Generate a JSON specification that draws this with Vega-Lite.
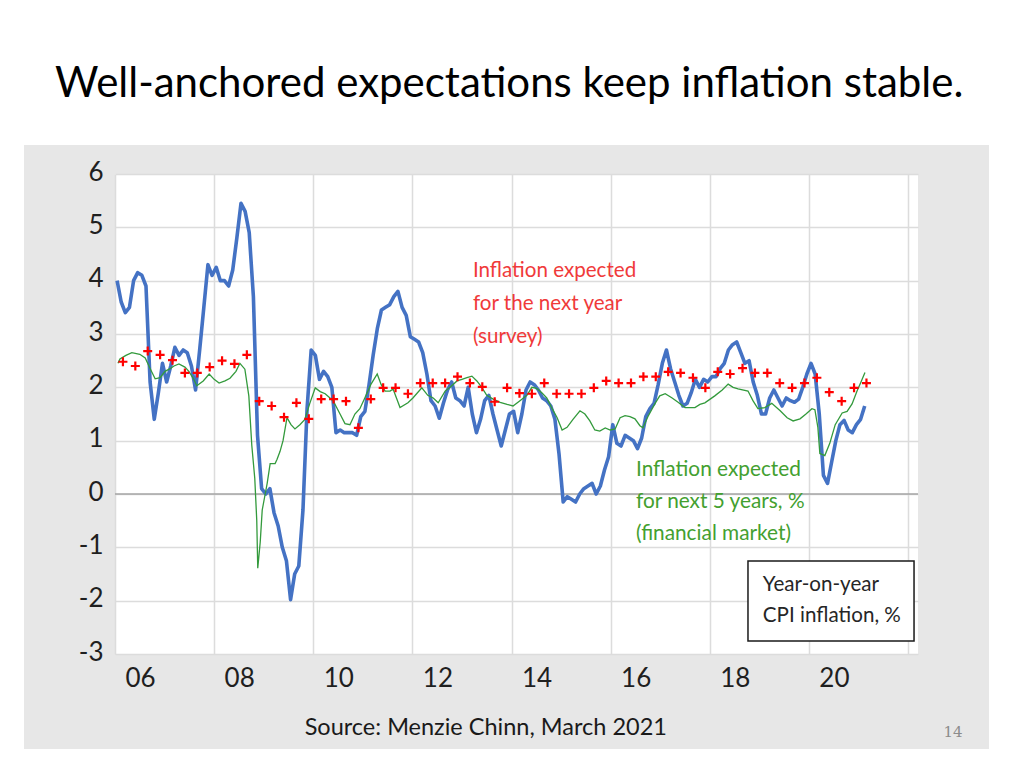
{
  "$schema": "https://vega.github.io/schema/vega-lite/v6.json",
  "width": 803,
  "height": 480,
  "autosize": {"type": "none"},
  "padding": {"left": 115, "top": 174, "right": 106, "bottom": 114},
  "background": "#e7e7e7",
  "config": {
    "view": {"fill": "#ffffff", "stroke": null},
    "font": "Lato",
    "text": {"font": "Lato"}
  },
  "datasets": {
    "cpi": [
      {"year": 2006.042, "pct": 4.0}, {"year": 2006.125, "pct": 3.6}, {"year": 2006.208, "pct": 3.4}, {"year": 2006.292, "pct": 3.5}, {"year": 2006.375, "pct": 4.0}, {"year": 2006.458, "pct": 4.15}, {"year": 2006.542, "pct": 4.1}, {"year": 2006.625, "pct": 3.9}, {"year": 2006.708, "pct": 2.1}, {"year": 2006.792, "pct": 1.4}, {"year": 2006.875, "pct": 1.9}, {"year": 2006.958, "pct": 2.45},
      {"year": 2007.042, "pct": 2.1}, {"year": 2007.125, "pct": 2.4}, {"year": 2007.208, "pct": 2.75}, {"year": 2007.292, "pct": 2.6}, {"year": 2007.375, "pct": 2.7}, {"year": 2007.458, "pct": 2.65}, {"year": 2007.542, "pct": 2.4}, {"year": 2007.625, "pct": 1.95}, {"year": 2007.708, "pct": 2.7}, {"year": 2007.792, "pct": 3.5}, {"year": 2007.875, "pct": 4.3}, {"year": 2007.958, "pct": 4.1},
      {"year": 2008.042, "pct": 4.25}, {"year": 2008.125, "pct": 4.0}, {"year": 2008.208, "pct": 4.0}, {"year": 2008.292, "pct": 3.9}, {"year": 2008.375, "pct": 4.2}, {"year": 2008.458, "pct": 4.8}, {"year": 2008.542, "pct": 5.45}, {"year": 2008.625, "pct": 5.3}, {"year": 2008.708, "pct": 4.9}, {"year": 2008.792, "pct": 3.7}, {"year": 2008.875, "pct": 1.1}, {"year": 2008.958, "pct": 0.1},
      {"year": 2009.042, "pct": 0.0}, {"year": 2009.125, "pct": 0.1}, {"year": 2009.208, "pct": -0.35}, {"year": 2009.292, "pct": -0.6}, {"year": 2009.375, "pct": -1.0}, {"year": 2009.458, "pct": -1.25}, {"year": 2009.542, "pct": -1.98}, {"year": 2009.625, "pct": -1.5}, {"year": 2009.708, "pct": -1.35}, {"year": 2009.792, "pct": -0.3}, {"year": 2009.875, "pct": 1.6}, {"year": 2009.958, "pct": 2.7},
      {"year": 2010.042, "pct": 2.6}, {"year": 2010.125, "pct": 2.15}, {"year": 2010.208, "pct": 2.3}, {"year": 2010.292, "pct": 2.2}, {"year": 2010.375, "pct": 2.0}, {"year": 2010.458, "pct": 1.15}, {"year": 2010.542, "pct": 1.2}, {"year": 2010.625, "pct": 1.15}, {"year": 2010.708, "pct": 1.15}, {"year": 2010.792, "pct": 1.15}, {"year": 2010.875, "pct": 1.1}, {"year": 2010.958, "pct": 1.45},
      {"year": 2011.042, "pct": 1.55}, {"year": 2011.125, "pct": 2.05}, {"year": 2011.208, "pct": 2.6}, {"year": 2011.292, "pct": 3.1}, {"year": 2011.375, "pct": 3.45}, {"year": 2011.458, "pct": 3.5}, {"year": 2011.542, "pct": 3.55}, {"year": 2011.625, "pct": 3.7}, {"year": 2011.708, "pct": 3.8}, {"year": 2011.792, "pct": 3.5}, {"year": 2011.875, "pct": 3.35}, {"year": 2011.958, "pct": 2.95},
      {"year": 2012.042, "pct": 2.9}, {"year": 2012.125, "pct": 2.85}, {"year": 2012.208, "pct": 2.65}, {"year": 2012.292, "pct": 2.25}, {"year": 2012.375, "pct": 1.75}, {"year": 2012.458, "pct": 1.65}, {"year": 2012.542, "pct": 1.42}, {"year": 2012.625, "pct": 1.7}, {"year": 2012.708, "pct": 1.95}, {"year": 2012.792, "pct": 2.1}, {"year": 2012.875, "pct": 1.8}, {"year": 2012.958, "pct": 1.75},
      {"year": 2013.042, "pct": 1.65}, {"year": 2013.125, "pct": 2.0}, {"year": 2013.208, "pct": 1.5}, {"year": 2013.292, "pct": 1.15}, {"year": 2013.375, "pct": 1.4}, {"year": 2013.458, "pct": 1.75}, {"year": 2013.542, "pct": 1.85}, {"year": 2013.625, "pct": 1.5}, {"year": 2013.708, "pct": 1.2}, {"year": 2013.792, "pct": 0.9}, {"year": 2013.875, "pct": 1.2}, {"year": 2013.958, "pct": 1.5},
      {"year": 2014.042, "pct": 1.55}, {"year": 2014.125, "pct": 1.15}, {"year": 2014.208, "pct": 1.5}, {"year": 2014.292, "pct": 1.95}, {"year": 2014.375, "pct": 2.1}, {"year": 2014.458, "pct": 2.05}, {"year": 2014.542, "pct": 1.95}, {"year": 2014.625, "pct": 1.8}, {"year": 2014.708, "pct": 1.75}, {"year": 2014.792, "pct": 1.65}, {"year": 2014.875, "pct": 1.4}, {"year": 2014.958, "pct": 0.75},
      {"year": 2015.042, "pct": -0.15}, {"year": 2015.125, "pct": -0.05}, {"year": 2015.208, "pct": -0.1}, {"year": 2015.292, "pct": -0.15}, {"year": 2015.375, "pct": 0.0}, {"year": 2015.458, "pct": 0.1}, {"year": 2015.542, "pct": 0.15}, {"year": 2015.625, "pct": 0.2}, {"year": 2015.708, "pct": 0.0}, {"year": 2015.792, "pct": 0.15}, {"year": 2015.875, "pct": 0.45}, {"year": 2015.958, "pct": 0.7},
      {"year": 2016.042, "pct": 1.3}, {"year": 2016.125, "pct": 0.95}, {"year": 2016.208, "pct": 0.9}, {"year": 2016.292, "pct": 1.1}, {"year": 2016.375, "pct": 1.05}, {"year": 2016.458, "pct": 1.0}, {"year": 2016.542, "pct": 0.85}, {"year": 2016.625, "pct": 1.05}, {"year": 2016.708, "pct": 1.45}, {"year": 2016.792, "pct": 1.6}, {"year": 2016.875, "pct": 1.7}, {"year": 2016.958, "pct": 2.05},
      {"year": 2017.042, "pct": 2.45}, {"year": 2017.125, "pct": 2.7}, {"year": 2017.208, "pct": 2.35}, {"year": 2017.292, "pct": 2.1}, {"year": 2017.375, "pct": 1.85}, {"year": 2017.458, "pct": 1.65}, {"year": 2017.542, "pct": 1.7}, {"year": 2017.625, "pct": 1.9}, {"year": 2017.708, "pct": 2.15}, {"year": 2017.792, "pct": 2.0}, {"year": 2017.875, "pct": 2.15}, {"year": 2017.958, "pct": 2.1},
      {"year": 2018.042, "pct": 2.2}, {"year": 2018.125, "pct": 2.2}, {"year": 2018.208, "pct": 2.35}, {"year": 2018.292, "pct": 2.45}, {"year": 2018.375, "pct": 2.7}, {"year": 2018.458, "pct": 2.8}, {"year": 2018.542, "pct": 2.85}, {"year": 2018.625, "pct": 2.65}, {"year": 2018.708, "pct": 2.45}, {"year": 2018.792, "pct": 2.5}, {"year": 2018.875, "pct": 2.1}, {"year": 2018.958, "pct": 1.85},
      {"year": 2019.042, "pct": 1.5}, {"year": 2019.125, "pct": 1.5}, {"year": 2019.208, "pct": 1.8}, {"year": 2019.292, "pct": 1.95}, {"year": 2019.375, "pct": 1.8}, {"year": 2019.458, "pct": 1.65}, {"year": 2019.542, "pct": 1.8}, {"year": 2019.625, "pct": 1.75}, {"year": 2019.708, "pct": 1.72}, {"year": 2019.792, "pct": 1.78}, {"year": 2019.875, "pct": 2.0}, {"year": 2019.958, "pct": 2.25},
      {"year": 2020.042, "pct": 2.45}, {"year": 2020.125, "pct": 2.25}, {"year": 2020.208, "pct": 1.5}, {"year": 2020.292, "pct": 0.35}, {"year": 2020.375, "pct": 0.2}, {"year": 2020.458, "pct": 0.6}, {"year": 2020.542, "pct": 1.0}, {"year": 2020.625, "pct": 1.3}, {"year": 2020.708, "pct": 1.38}, {"year": 2020.792, "pct": 1.2}, {"year": 2020.875, "pct": 1.15}, {"year": 2020.958, "pct": 1.3},
      {"year": 2021.042, "pct": 1.4}, {"year": 2021.125, "pct": 1.65}
    ],
    "market5y": [
      {"year": 2006.06, "pct": 2.45}, {"year": 2006.10, "pct": 2.53}, {"year": 2006.22, "pct": 2.60}, {"year": 2006.34, "pct": 2.65}, {"year": 2006.50, "pct": 2.62}, {"year": 2006.61, "pct": 2.55}, {"year": 2006.71, "pct": 2.35}, {"year": 2006.81, "pct": 2.16}, {"year": 2006.91, "pct": 2.18},
      {"year": 2007.01, "pct": 2.30}, {"year": 2007.11, "pct": 2.35}, {"year": 2007.19, "pct": 2.40}, {"year": 2007.29, "pct": 2.44}, {"year": 2007.41, "pct": 2.38}, {"year": 2007.49, "pct": 2.30}, {"year": 2007.59, "pct": 2.15}, {"year": 2007.65, "pct": 2.03}, {"year": 2007.78, "pct": 2.12}, {"year": 2007.90, "pct": 2.25},
      {"year": 2008.00, "pct": 2.15}, {"year": 2008.10, "pct": 2.08}, {"year": 2008.22, "pct": 2.12}, {"year": 2008.32, "pct": 2.17}, {"year": 2008.44, "pct": 2.30}, {"year": 2008.52, "pct": 2.45}, {"year": 2008.62, "pct": 2.34}, {"year": 2008.70, "pct": 1.84}, {"year": 2008.76, "pct": 0.91}, {"year": 2008.82, "pct": 0.29}, {"year": 2008.86, "pct": -0.50}, {"year": 2008.88, "pct": -1.39}, {"year": 2008.93, "pct": -0.90}, {"year": 2008.97, "pct": -0.30},
      {"year": 2009.03, "pct": 0.00}, {"year": 2009.07, "pct": 0.20}, {"year": 2009.13, "pct": 0.57}, {"year": 2009.23, "pct": 0.57}, {"year": 2009.27, "pct": 0.65}, {"year": 2009.33, "pct": 0.80}, {"year": 2009.39, "pct": 1.00}, {"year": 2009.47, "pct": 1.43}, {"year": 2009.55, "pct": 1.30}, {"year": 2009.63, "pct": 1.22}, {"year": 2009.73, "pct": 1.30}, {"year": 2009.83, "pct": 1.40}, {"year": 2009.93, "pct": 1.70},
      {"year": 2010.04, "pct": 1.99}, {"year": 2010.14, "pct": 1.92}, {"year": 2010.24, "pct": 1.88}, {"year": 2010.40, "pct": 1.75}, {"year": 2010.54, "pct": 1.50}, {"year": 2010.64, "pct": 1.32}, {"year": 2010.74, "pct": 1.30}, {"year": 2010.84, "pct": 1.50}, {"year": 2010.94, "pct": 1.60},
      {"year": 2011.04, "pct": 1.80}, {"year": 2011.16, "pct": 2.05}, {"year": 2011.29, "pct": 2.25}, {"year": 2011.37, "pct": 2.05}, {"year": 2011.45, "pct": 1.93}, {"year": 2011.55, "pct": 1.93}, {"year": 2011.61, "pct": 1.97}, {"year": 2011.75, "pct": 1.62}, {"year": 2011.91, "pct": 1.71},
      {"year": 2012.01, "pct": 1.80}, {"year": 2012.19, "pct": 1.99}, {"year": 2012.31, "pct": 1.85}, {"year": 2012.42, "pct": 1.80}, {"year": 2012.52, "pct": 1.71}, {"year": 2012.66, "pct": 1.93}, {"year": 2012.76, "pct": 2.00}, {"year": 2012.90, "pct": 2.12},
      {"year": 2013.00, "pct": 2.15}, {"year": 2013.10, "pct": 2.18}, {"year": 2013.20, "pct": 2.21}, {"year": 2013.30, "pct": 2.12}, {"year": 2013.40, "pct": 2.00}, {"year": 2013.50, "pct": 1.85}, {"year": 2013.63, "pct": 1.78}, {"year": 2013.77, "pct": 1.72}, {"year": 2013.91, "pct": 1.68},
      {"year": 2014.03, "pct": 1.65}, {"year": 2014.17, "pct": 1.75}, {"year": 2014.31, "pct": 1.85}, {"year": 2014.41, "pct": 2.00}, {"year": 2014.51, "pct": 1.98}, {"year": 2014.61, "pct": 1.90}, {"year": 2014.71, "pct": 1.80}, {"year": 2014.82, "pct": 1.60}, {"year": 2014.92, "pct": 1.43},
      {"year": 2015.02, "pct": 1.20}, {"year": 2015.12, "pct": 1.25}, {"year": 2015.24, "pct": 1.40}, {"year": 2015.38, "pct": 1.56}, {"year": 2015.48, "pct": 1.50}, {"year": 2015.58, "pct": 1.37}, {"year": 2015.68, "pct": 1.20}, {"year": 2015.78, "pct": 1.18}, {"year": 2015.89, "pct": 1.24}, {"year": 2015.99, "pct": 1.20},
      {"year": 2016.09, "pct": 1.22}, {"year": 2016.19, "pct": 1.43}, {"year": 2016.29, "pct": 1.47}, {"year": 2016.39, "pct": 1.45}, {"year": 2016.49, "pct": 1.41}, {"year": 2016.59, "pct": 1.28}, {"year": 2016.65, "pct": 1.24}, {"year": 2016.75, "pct": 1.45}, {"year": 2016.89, "pct": 1.69}, {"year": 2016.99, "pct": 1.84},
      {"year": 2017.10, "pct": 1.88}, {"year": 2017.24, "pct": 1.80}, {"year": 2017.36, "pct": 1.72}, {"year": 2017.50, "pct": 1.62}, {"year": 2017.70, "pct": 1.62}, {"year": 2017.80, "pct": 1.68}, {"year": 2017.90, "pct": 1.71},
      {"year": 2018.10, "pct": 1.84}, {"year": 2018.25, "pct": 1.95}, {"year": 2018.37, "pct": 2.06}, {"year": 2018.47, "pct": 2.00}, {"year": 2018.57, "pct": 1.97}, {"year": 2018.77, "pct": 1.93}, {"year": 2018.87, "pct": 1.75}, {"year": 2018.97, "pct": 1.60},
      {"year": 2019.11, "pct": 1.62}, {"year": 2019.25, "pct": 1.70}, {"year": 2019.42, "pct": 1.56}, {"year": 2019.56, "pct": 1.43}, {"year": 2019.68, "pct": 1.37}, {"year": 2019.82, "pct": 1.41}, {"year": 2019.94, "pct": 1.50},
      {"year": 2020.06, "pct": 1.60}, {"year": 2020.12, "pct": 1.58}, {"year": 2020.18, "pct": 1.25}, {"year": 2020.22, "pct": 0.76}, {"year": 2020.32, "pct": 0.72}, {"year": 2020.42, "pct": 0.95}, {"year": 2020.53, "pct": 1.30}, {"year": 2020.67, "pct": 1.52}, {"year": 2020.77, "pct": 1.55}, {"year": 2020.87, "pct": 1.69}, {"year": 2020.97, "pct": 1.93},
      {"year": 2021.05, "pct": 2.10}, {"year": 2021.13, "pct": 2.28}
    ],
    "survey": [
      {"year": 2006.16, "pct": 2.48}, {"year": 2006.41, "pct": 2.40}, {"year": 2006.66, "pct": 2.68}, {"year": 2006.91, "pct": 2.61},
      {"year": 2007.16, "pct": 2.51}, {"year": 2007.41, "pct": 2.27}, {"year": 2007.66, "pct": 2.27}, {"year": 2007.91, "pct": 2.38},
      {"year": 2008.16, "pct": 2.50}, {"year": 2008.41, "pct": 2.44}, {"year": 2008.66, "pct": 2.61}, {"year": 2008.91, "pct": 1.74},
      {"year": 2009.16, "pct": 1.65}, {"year": 2009.41, "pct": 1.44}, {"year": 2009.66, "pct": 1.71}, {"year": 2009.91, "pct": 1.41},
      {"year": 2010.16, "pct": 1.78}, {"year": 2010.41, "pct": 1.78}, {"year": 2010.66, "pct": 1.74}, {"year": 2010.91, "pct": 1.24},
      {"year": 2011.16, "pct": 1.78}, {"year": 2011.41, "pct": 1.99}, {"year": 2011.66, "pct": 1.99}, {"year": 2011.91, "pct": 1.88},
      {"year": 2012.16, "pct": 2.08}, {"year": 2012.41, "pct": 2.08}, {"year": 2012.66, "pct": 2.08}, {"year": 2012.91, "pct": 2.20},
      {"year": 2013.16, "pct": 2.08}, {"year": 2013.41, "pct": 2.01}, {"year": 2013.66, "pct": 1.73}, {"year": 2013.91, "pct": 1.99},
      {"year": 2014.16, "pct": 1.89}, {"year": 2014.41, "pct": 1.88}, {"year": 2014.66, "pct": 2.08}, {"year": 2014.91, "pct": 1.88},
      {"year": 2015.16, "pct": 1.88}, {"year": 2015.41, "pct": 1.88}, {"year": 2015.66, "pct": 1.99}, {"year": 2015.91, "pct": 2.12},
      {"year": 2016.16, "pct": 2.08}, {"year": 2016.41, "pct": 2.08}, {"year": 2016.66, "pct": 2.20}, {"year": 2016.91, "pct": 2.20},
      {"year": 2017.16, "pct": 2.29}, {"year": 2017.41, "pct": 2.27}, {"year": 2017.66, "pct": 2.18}, {"year": 2017.91, "pct": 1.99},
      {"year": 2018.16, "pct": 2.29}, {"year": 2018.41, "pct": 2.25}, {"year": 2018.66, "pct": 2.36}, {"year": 2018.91, "pct": 2.27},
      {"year": 2019.16, "pct": 2.27}, {"year": 2019.41, "pct": 2.08}, {"year": 2019.66, "pct": 1.99}, {"year": 2019.91, "pct": 2.08},
      {"year": 2020.16, "pct": 2.18}, {"year": 2020.41, "pct": 1.91}, {"year": 2020.66, "pct": 1.74}, {"year": 2020.91, "pct": 1.99},
      {"year": 2021.16, "pct": 2.08}
    ]
  },
  "layer": [
    {
      "data": {"values": [{}]},
      "mark": {"type": "rule", "color": "#a6a6a6", "strokeWidth": 1.5},
      "encoding": {
        "y": {"datum": 0, "type": "quantitative"},
        "x": {"datum": 2006, "type": "quantitative"},
        "x2": {"datum": 2022.2}
      }
    },
    {
      "encoding": {
        "x": {
          "field": "year", "type": "quantitative",
          "scale": {"domain": [2006, 2022.2], "nice": false, "zero": false},
          "axis": {
            "title": null,
            "values": [2006, 2008, 2010, 2012, 2014, 2016, 2018, 2020, 2022],
            "labelExpr": "datum.value >= 2022 ? '' : substring(toString(datum.value), 2)",
            "labelOffset": 25,
            "labelFlush": false,
            "labelOverlap": false,
            "labelFontSize": 26,
            "labelFont": "Lato",
            "labelColor": "#1f1f1f",
            "labelPadding": 11,
            "ticks": false,
            "domain": false,
            "grid": true,
            "gridColor": "#dcdcdc",
            "gridWidth": 1.5
          }
        },
        "y": {
          "field": "pct", "type": "quantitative",
          "scale": {"domain": [-3, 6], "nice": false, "zero": false},
          "axis": {
            "title": null,
            "values": [-3, -2, -1, 0, 1, 2, 3, 4, 5, 6],
            "labelExpr": "toString(datum.value)",
            "labelOffset": -2,
            "labelFontSize": 26,
            "labelFont": "Lato",
            "labelColor": "#1f1f1f",
            "labelPadding": 12,
            "ticks": false,
            "domain": false,
            "grid": true,
            "gridColor": "#dcdcdc",
            "gridWidth": 1.5
          }
        }
      },
      "layer": [
        {
          "data": {"name": "cpi"},
          "mark": {"type": "line", "color": "#4472c4", "strokeWidth": 3.6, "strokeJoin": "round"}
        },
        {
          "data": {"name": "market5y"},
          "mark": {"type": "line", "color": "#339a3c", "strokeWidth": 1.3}
        },
        {
          "data": {"name": "survey"},
          "mark": {"type": "point", "shape": "M-1,0L1,0M0,-1L0,1", "size": 81, "filled": false, "stroke": "#ff0000", "strokeWidth": 2.2, "opacity": 1}
        }
      ]
    },
    {
      "data": {"values": [{}]},
      "mark": {"type": "rect", "fill": "#ffffff", "clip": false},
      "encoding": {
        "x": {"datum": 2003, "type": "quantitative"},
        "x2": {"datum": 2026},
        "y": {"datum": 6.545, "type": "quantitative"},
        "y2": {"datum": 9.27}
      }
    },
    {
      "data": {"values": [{}]},
      "mark": {"type": "rect", "fill": "#ffffff", "clip": false},
      "encoding": {
        "x": {"datum": 2003, "type": "quantitative"},
        "x2": {"datum": 2004.164},
        "y": {"datum": -5.2, "type": "quantitative"},
        "y2": {"datum": 9.27}
      }
    },
    {
      "data": {"values": [{}]},
      "mark": {"type": "rect", "fill": "#ffffff", "clip": false},
      "encoding": {
        "x": {"datum": 2023.632, "type": "quantitative"},
        "x2": {"datum": 2026},
        "y": {"datum": -5.2, "type": "quantitative"},
        "y2": {"datum": 9.27}
      }
    },
    {
      "data": {"values": [{}]},
      "mark": {"type": "rect", "fill": "#ffffff", "clip": false},
      "encoding": {
        "x": {"datum": 2003, "type": "quantitative"},
        "x2": {"datum": 2026},
        "y": {"datum": -5.2, "type": "quantitative"},
        "y2": {"datum": -4.78}
      }
    },
    {
      "data": {"values": [{}]},
      "mark": {"type": "text", "align": "left", "baseline": "alphabetic", "fontSize": 42, "color": "#000000", "font": "Lato", "clip": false},
      "encoding": {
        "x": {"datum": 2004.79, "type": "quantitative"},
        "y": {"datum": 7.444, "type": "quantitative"},
        "text": {"value": "Well-anchored expectations keep inflation stable."}
      }
    },
    {
      "data": {"values": [{}]},
      "mark": {"type": "text", "align": "left", "baseline": "alphabetic", "fontSize": 20.6, "lineHeight": 33, "color": "#f03a3a", "font": "Lato"},
      "encoding": {
        "x": {"datum": 2013.22, "type": "quantitative"},
        "y": {"datum": 4.07, "type": "quantitative"},
        "text": {"value": ["Inflation expected", "for the next year", "(survey)"]}
      }
    },
    {
      "data": {"values": [{}]},
      "mark": {"type": "text", "align": "left", "baseline": "alphabetic", "fontSize": 20.8, "lineHeight": 32, "color": "#43a030", "font": "Lato"},
      "encoding": {
        "x": {"datum": 2016.51, "type": "quantitative"},
        "y": {"datum": 0.34, "type": "quantitative"},
        "text": {"value": ["Inflation expected", "for next 5 years, %", "(financial market)"]}
      }
    },
    {
      "data": {"values": [{}]},
      "mark": {"type": "rect", "fill": "#ffffff", "stroke": "#1a1a1a", "strokeWidth": 1.5},
      "encoding": {
        "x": {"datum": 2018.77, "type": "quantitative"},
        "x2": {"datum": 2022.12},
        "y": {"datum": -1.257, "type": "quantitative"},
        "y2": {"datum": -2.757}
      }
    },
    {
      "data": {"values": [{}]},
      "mark": {"type": "text", "align": "left", "baseline": "alphabetic", "fontSize": 20.6, "lineHeight": 31, "color": "#262626", "font": "Lato"},
      "encoding": {
        "x": {"datum": 2019.07, "type": "quantitative"},
        "y": {"datum": -1.82, "type": "quantitative"},
        "text": {"value": ["Year-on-year", "CPI inflation, %"]}
      }
    },
    {
      "data": {"values": [{}]},
      "mark": {"type": "text", "align": "center", "baseline": "middle", "fontSize": 23.5, "color": "#1a1a1a", "font": "Lato", "clip": false},
      "encoding": {
        "x": {"datum": 2013.48, "type": "quantitative"},
        "y": {"datum": -4.39, "type": "quantitative"},
        "text": {"value": "Source: Menzie Chinn, March 2021"}
      }
    },
    {
      "data": {"values": [{}]},
      "mark": {"type": "text", "align": "center", "baseline": "middle", "fontSize": 15, "color": "#8c8c8c", "font": "DejaVu Serif", "clip": false},
      "encoding": {
        "x": {"datum": 2022.905, "type": "quantitative"},
        "y": {"datum": -4.46, "type": "quantitative"},
        "text": {"value": "14"}
      }
    }
  ]
}
